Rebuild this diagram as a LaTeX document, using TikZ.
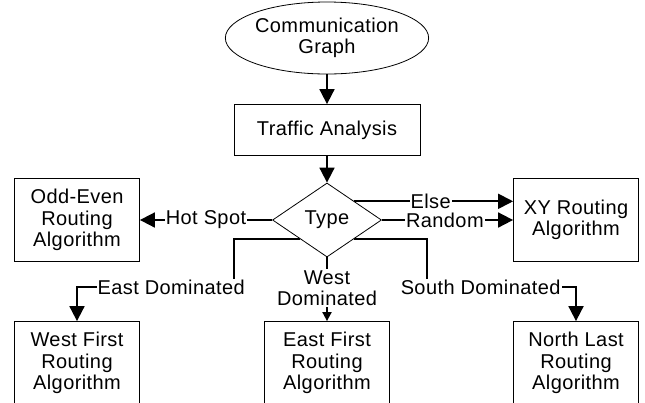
\documentclass[tikz,border=0pt]{standalone}
\usepackage{fontspec}
\setmainfont{Liberation Sans}[LetterSpace=2]
\usetikzlibrary{shapes.geometric,arrows.meta}

\begin{document}
\begin{tikzpicture}[x=1bp,y=1bp,>={Triangle[width=15bp,length=15bp]},
    font=\fontsize{20bp}{21.5bp}\selectfont,
    box node/.style={draw,line width=0.8bp,rectangle,align=center,inner sep=0pt,minimum width=125bp,minimum height=83bp},
    lab node/.style={fill=white,inner sep=1bp,align=center},
    edge/.style={line width=1.8bp}]

            \useasboundingbox (0,0) rectangle (645,-402);
            \clip (0,0) rectangle (645,-402);

            \node[ellipse, draw, line width=0.8bp, align=center, inner sep=0pt, minimum width=203bp, minimum height=72bp] (1) at (327,-38) {Communication\\Graph};
            \node[box node, minimum width=186bp, minimum height=51bp] (2) at (327,-130) {Traffic Analysis};
            \node[diamond, draw, line width=0.8bp, inner sep=0pt, aspect=1.47, minimum width=109bp, minimum height=74bp] (3) at (327,-220) {Type};
            \node[box node] (4) at (77,-220) {Odd-Even\\Routing\\Algorithm};
            \node[box node] (5) at (576,-220) {XY Routing\\Algorithm};
            \node[box node] (6) at (77,-363) {West First\\Routing\\Algorithm};
            \node[box node] (7) at (327,-363) {East First\\Routing\\Algorithm};
            \node[box node] (8) at (576,-363) {North Last\\Routing\\Algorithm};

            \coordinate (e1) at (234,-287);
            \coordinate (s1) at (427,-287);

            \draw[edge,->] (1) to (2);
            \draw[edge,->] (2) to (3);
            \draw[edge,->] (3.west) to node[lab node,pos=0.5] (l1) {Hot Spot} (4.east);
            \draw[edge,->] (3.north east) to node[lab node,pos=0.48] (l2) {Else} (3.north east -| 5.west);
            \draw[edge,->] (3.east) to node[lab node,pos=0.48] (l3) {Random} (5.west);
            \draw[edge,->] (3.south west) -| (e1) -| node[lab node,pos=0.2] (l4) {East Dominated} (6.north);
            \draw[edge,-{Triangle[width=9bp,length=9bp]}] (3.south) to node[lab node,pos=0.48] (l5) {West\\Dominated} (7.north);
            \draw[edge,->] (3.south east) -| (s1) -| node[lab node,pos=0.18] (l6) {South Dominated} (8.north);

            % \draw[-] (4) to (6);
        \end{tikzpicture}
\end{document}
